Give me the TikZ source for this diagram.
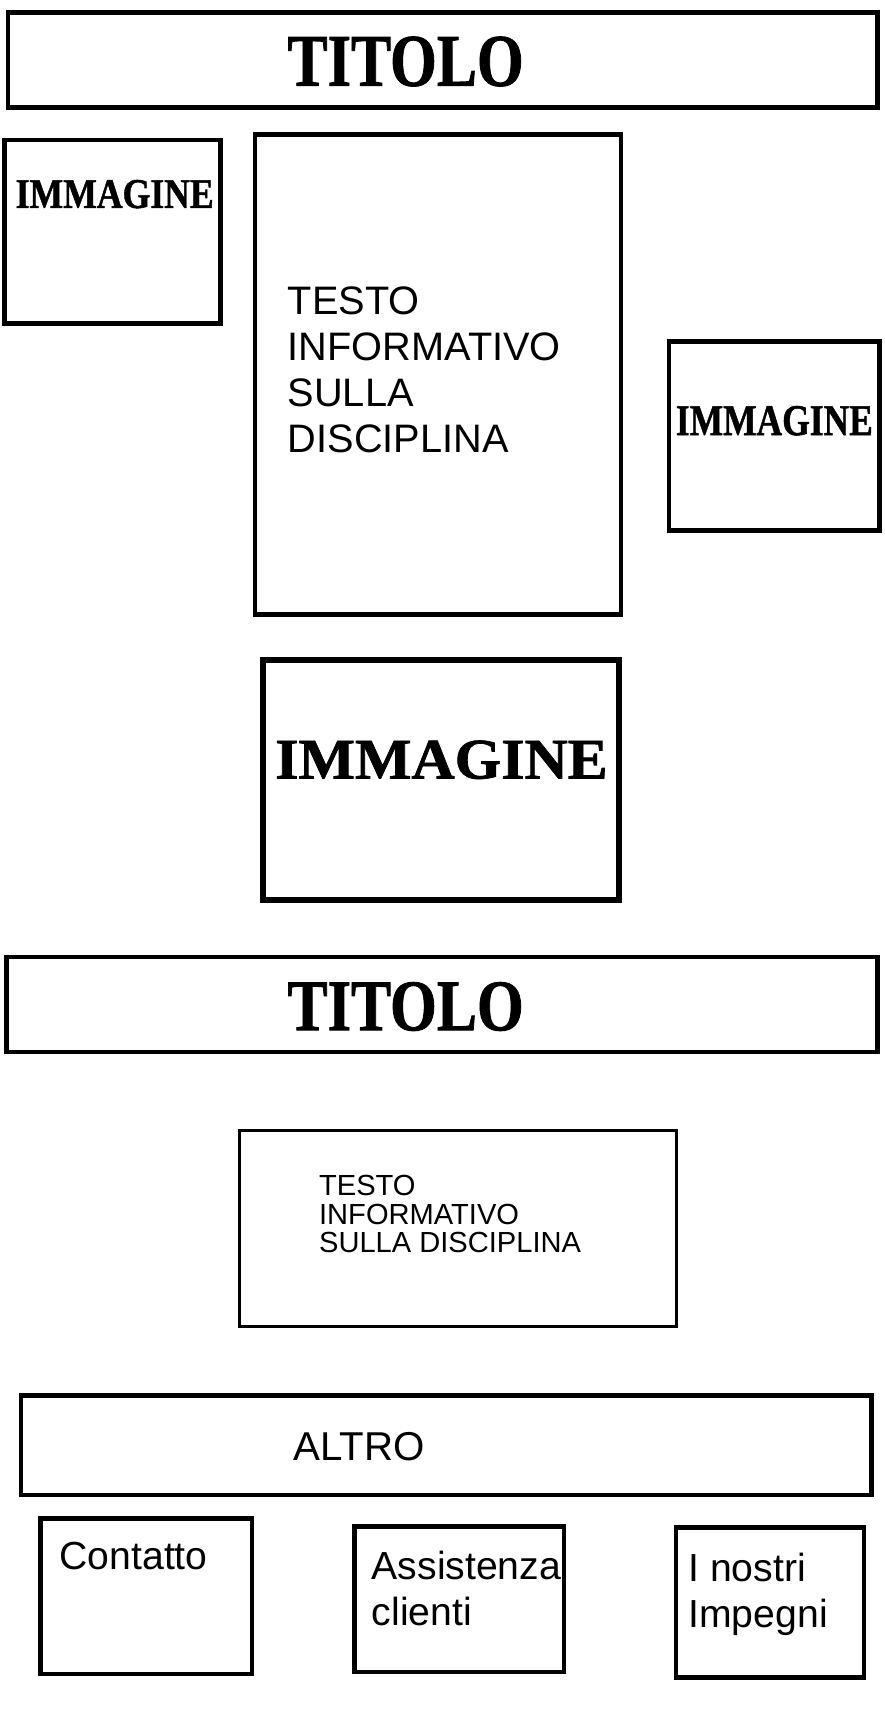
\documentclass[tikz,border=0pt]{standalone}
\usepackage{fontspec}
\setmainfont{Liberation Sans}
\newfontfamily\lbs[FakeBold=1.2]{Liberation Serif}
\newcommand\fitlabel[3]{\resizebox{#1pt}{#2pt}{\lbs\bfseries #3}}
\tikzset{
  box/.style={draw=black, line width=4pt, inner sep=0pt, fill=none},
  lbl/.style={inner sep=0pt, anchor=center},
  txt/.style={inner sep=0pt, align=left, anchor=north west},
}
\begin{document}
\begin{tikzpicture}[x=1pt,y=-1pt]
\useasboundingbox (0,0) rectangle (790,1551.4);
\fill[white] (0,0) rectangle (790,1551.4);
% boxes
\node[box, minimum width=777pt, minimum height=85pt] (t1) at (395.5,53.5) {};
\node[box, minimum width=193pt, minimum height=164pt] (img1) at (100.5,207) {};
\node[box, minimum width=327pt, minimum height=429pt] (txt1) at (391.5,334.5) {};
\node[box, minimum width=188pt, minimum height=169pt] (img2) at (692,389.5) {};
\node[box, line width=5.5pt, minimum width=318.5pt, minimum height=214.5pt] (img3) at (394,697) {};
\node[box, minimum width=778pt, minimum height=85pt] (t2) at (395,897.5) {};
\node[box, line width=2.6pt, minimum width=390.4pt, minimum height=175.4pt] (txt2) at (409.5,1098) {};
\node[box, minimum width=760pt, minimum height=89pt] (altro) at (399,1291.5) {};
\node[box, minimum width=189pt, minimum height=139pt] (c1) at (130.5,1426.5) {};
\node[box, minimum width=187pt, minimum height=130pt] (c2) at (410.5,1429) {};
\node[box, minimum width=168pt, minimum height=134pt] (c3) at (688,1432) {};
% bold serif labels
\node[lbl] (t1l) at (362.5,55) {\fitlabel{211}{44}{TITOLO}};
\node[lbl] (img1l) at (102.5,173.5) {\fitlabel{177}{25}{IMMAGINE}};
\node[lbl] (img2l) at (692,376) {\fitlabel{176}{26}{IMMAGINE}};
\node[lbl] (img3l) at (394.5,679) {\fitlabel{297}{34}{IMMAGINE}};
\node[lbl] (t2l) at (362.5,899.5) {\fitlabel{211}{43}{TITOLO}};
% sans texts
\node[txt, font=\fontsize{35.5}{41}\selectfont] (txt1l) at (257,256) {TESTO\\INFORMATIVO\\SULLA\\DISCIPLINA};
\node[txt, font=\fontsize{26}{25.5}\selectfont] (txt2l) at (285,1050) {TESTO\\INFORMATIVO\\SULLA DISCIPLINA};
\node[inner sep=0pt, anchor=base west, font=\fontsize{36}{41}\selectfont] (altrol) at (262,1305) {ALTRO};
\node[inner sep=0pt, anchor=base west, font=\fontsize{35}{41}\selectfont] (c1l) at (53,1403) {Contatto};
\node[txt, font=\fontsize{35}{41}\selectfont] (c2l) at (332,1386) {Assistenza\\clienti};
\node[txt, font=\fontsize{35}{41}\selectfont] (c3l) at (615,1388) {I nostri\\Impegni};
\end{tikzpicture}
\end{document}
